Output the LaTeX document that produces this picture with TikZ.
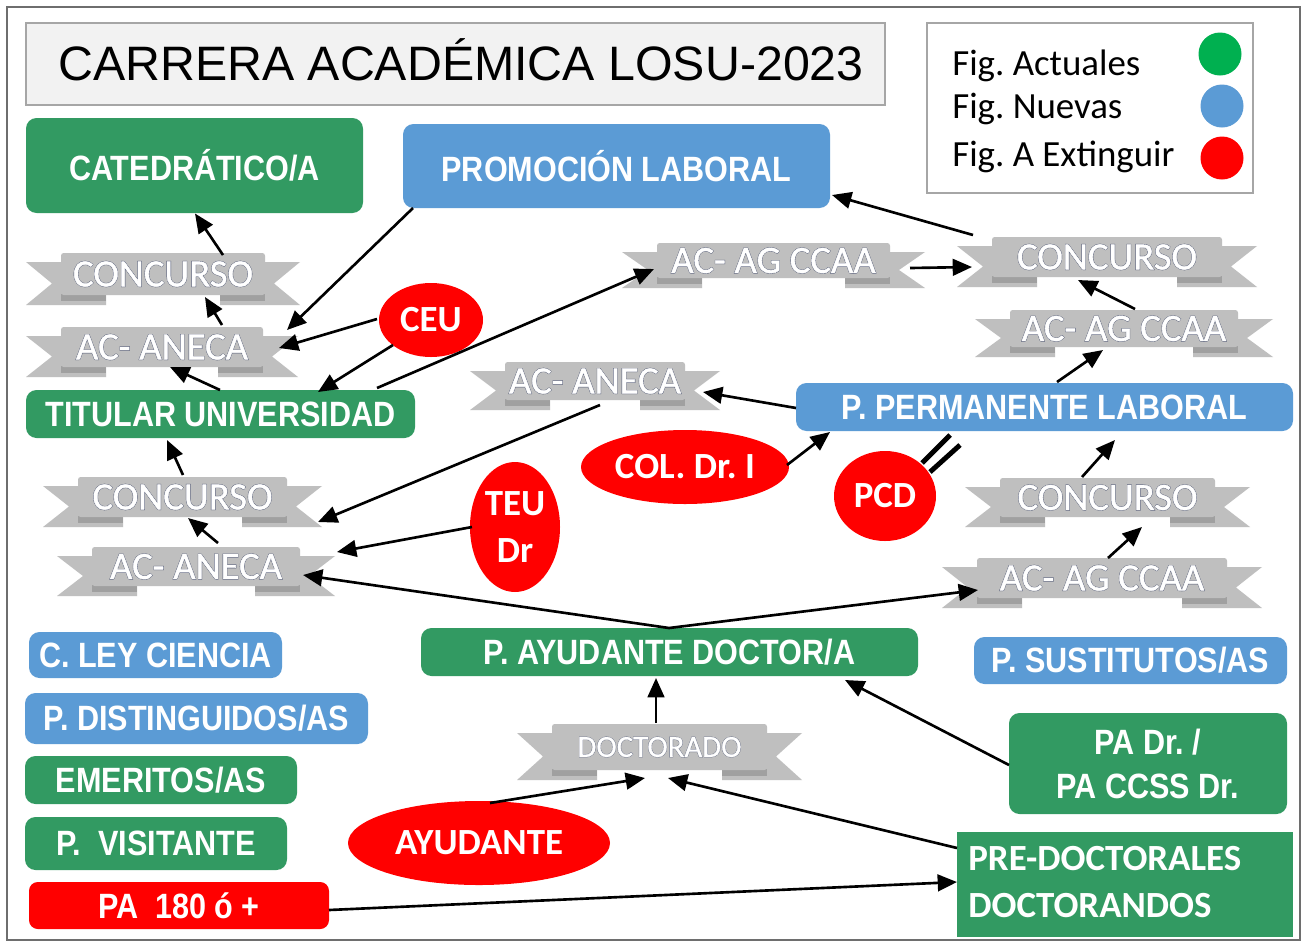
\documentclass[tikz,border=0pt]{standalone}
\usepackage{fontspec}
\setmainfont{Liberation Sans}
\newfontfamily\boxfont{Liberation Sans}[FakeStretch=0.87]
\newfontfamily\calfont{Carlito}
\newfontfamily\ribfontW{Carlito}[FakeBold=1.2]
\newfontfamily\ribfontO{Carlito}[FakeBold=3.2]
\usetikzlibrary{calc,arrows.meta,shapes.geometric}
\frenchspacing
\newlength\pxu
\setlength\pxu{0.02cm}
\definecolor{grn}{RGB}{50,154,98}
\definecolor{blu}{RGB}{91,155,213}
\definecolor{rd}{RGB}{255,0,0}
\definecolor{ribgray}{RGB}{191,191,191}
\definecolor{ribfold}{RGB}{160,160,160}
\definecolor{ribline}{RGB}{80,88,115}
\definecolor{lgreen}{RGB}{0,176,80}
\definecolor{framec}{RGB}{110,110,110}
\definecolor{titfill}{RGB}{242,242,242}
\definecolor{titdraw}{RGB}{166,166,166}
\tikzset{
 boxbase/.style={inner sep=0pt, text=white, font=\boxfont\bfseries\fontsize{20}{25}\selectfont, align=center},
 gbox/.style={boxbase, fill=grn, rounded corners=6pt},
 bbox/.style={boxbase, fill=blu, rounded corners=6pt},
 rbox/.style={boxbase, fill=rd, rounded corners=5pt},
 redell/.style={ellipse, fill=rd, inner sep=0pt, text=white, font=\calfont\bfseries\fontsize{21}{27}\selectfont, align=center},
 ribtxtO/.style={inner sep=0pt, text=ribline, font=\ribfontO\fontsize{#1}{#1}\selectfont},
 ribtxtW/.style={inner sep=0pt, text=white, font=\ribfontW\fontsize{#1}{#1}\selectfont},
 arr/.style={line width=1.5pt, -{Triangle[length=11pt,width=9.5pt]}},
 legtxt/.style={anchor=base west, inner sep=0pt, font=\calfont\fontsize{21}{21}\selectfont},
 dot/.style={circle, inner sep=0pt, minimum size={43*\pxu}},
}
\newcommand\mybox[7]{%
  \node[#1, minimum width={(#5-#3)*\pxu}, minimum height={(#6-#4)*\pxu}] (#2) at ({(#3+#5)/2},{(#4+#6)/2}) {#7};%
}
\newcommand\myribbon[7]{%
  \pgfmathsetmacro\rbL{#2+35}%
  \pgfmathsetmacro\rbR{#4-35}%
  \pgfmathsetmacro\rbM{(#3+9+#5)/2}%
  \pgfmathsetmacro\rbX{(#2+#4)/2}%
  \pgfmathsetmacro\rbY{(#3+#5-10)/2}%
  \fill[ribgray] (#2,#3+9) -- (\rbL+45,#3+9) -- (\rbL+45,#5) -- (#2,#5) -- (#2+26,\rbM) -- cycle;
  \fill[ribgray] (#4,#3+9) -- (\rbR-45,#3+9) -- (\rbR-45,#5) -- (#4,#5) -- (#4-26,\rbM) -- cycle;
  \fill[ribfold] (\rbL,#5-11) rectangle (\rbL+45,#5-4);
  \fill[ribfold] (\rbR-45,#5-11) rectangle (\rbR,#5-4);
  \fill[ribgray,rounded corners=1.5pt] (\rbL,#3) rectangle (\rbR,#5-10);
  \node[inner sep=0pt, minimum width={(#4-#2)*\pxu}, minimum height={(#5-#3)*\pxu}] (#1) at (\rbX,{(#3+#5)/2}) {};
  \node[ribtxtO=#7] at (\rbX,\rbY) {#6};
  \node[ribtxtW=#7] (#1t) at (\rbX,\rbY) {#6};
}
\begin{document}
\begin{tikzpicture}[x=0.02cm,y=-0.02cm]
\useasboundingbox (0,0) rectangle (1308,944);
\fill[white] (0,0) rectangle (1308,944);
\draw[framec, line width=1.2pt] (7,7) rectangle (1300,940);

% title
\node[fill=titfill, draw=titdraw, line width=1.2pt, inner sep=0pt, minimum width={(885-26)*\pxu}, minimum height={(105-23)*\pxu}] (title) at (455.5,64) {};
\node[anchor=base, inner sep=0pt, font=\fontsize{27.5}{30}\selectfont] (titletext) at (461,80) {CARRERA ACADÉMICA LOSU-2023};

% legend
\node[fill=white, draw=titdraw, line width=1.2pt, inner sep=0pt, minimum width={(1253-927)*\pxu}, minimum height={(193-23)*\pxu}] (legend) at (1090,108) {};
\node[legtxt] (l1) at (952,75) {Fig. Actuales};
\node[legtxt] (l2) at (952,118) {Fig. Nuevas};
\node[legtxt] (l3) at (952,166) {Fig. A Extinguir};
\node[dot, fill=lgreen] (c1) at (1220,54) {};
\node[dot, fill=blu] (c2) at (1222,106) {};
\node[dot, fill=rd] (c3) at (1222,158) {};

% ribbons
\myribbon{R1}{26}{253}{300}{305}{CONCURSO}{22}
\myribbon{R2}{26}{327}{298}{377}{AC- ANECA}{22}
\myribbon{R3}{43}{477}{322}{527}{CONCURSO}{22}
\myribbon{R4}{57}{547}{335}{596}{AC- ANECA}{22}
\myribbon{R5}{622}{243}{925}{288}{AC- AG CCAA}{22}
\myribbon{R6}{957}{237}{1257}{287}{CONCURSO}{22}
\myribbon{R7}{975}{310}{1273}{357}{AC- AG CCAA}{22}
\myribbon{R10}{470}{362}{720}{410}{AC- ANECA}{22}
\myribbon{R8}{965}{478}{1250}{527}{CONCURSO}{22}
\myribbon{R9}{942}{558}{1262}{608}{AC- AG CCAA}{22}
\myribbon{R11}{517}{724}{802}{780}{DOCTORADO}{17.5}

% boxes
\mybox{gbox}{G1}{26}{118}{363}{213}{CATEDRÁTICO/A}
\mybox{bbox}{B1}{403}{124}{830}{208}{PROMOCIÓN LABORAL}
\mybox{gbox}{G2}{26}{390}{415}{438}{TITULAR UNIVERSIDAD}
\mybox{bbox}{B2}{796}{383}{1293}{431}{P. PERMANENTE LABORAL}
\mybox{gbox}{G3}{421}{628}{918}{676}{P. AYUDANTE DOCTOR/A}
\mybox{bbox}{B3}{29}{632}{282}{678}{C. LEY CIENCIA}
\mybox{bbox}{B4}{25}{693}{368}{744}{P. DISTINGUIDOS/AS}
\mybox{gbox}{G4}{25}{756}{297}{804}{EMERITOS/AS}
\mybox{gbox}{G5}{25}{817}{287}{870}{P.~~VISITANTE}
\mybox{rbox}{P180}{29}{882}{329}{929}{PA~~180 ó +}
\mybox{bbox}{B5}{974}{637}{1287}{684}{P. SUSTITUTOS/AS}
\mybox{gbox}{G6}{1009}{713}{1287}{814}{PA Dr. /\\PA CCSS Dr.}
\node[fill=grn, inner sep=0pt, minimum width={(1293-957)*\pxu}, minimum height={(937-832)*\pxu}] (G7) at (1125,884.5) {};
\node[anchor=west, align=left, inner sep=0pt, text=white, font=\calfont\bfseries\fontsize{21}{26.6}\selectfont] (G7t) at (968,882) {PRE-DOCTORALES\\DOCTORANDOS};

% red ellipses
\node[redell, minimum width={104*\pxu}, minimum height={74*\pxu}] (CEU) at (431,320) {CEU};
\node[redell, minimum width={208*\pxu}, minimum height={74*\pxu}] (COL) at (685,467) {COL. Dr. I};
\node[redell, minimum width={102*\pxu}, minimum height={90*\pxu}] (PCD) at (885,496) {PCD};
\node[redell, minimum width={90*\pxu}, minimum height={130*\pxu}] (TEU) at (515,527) {TEU\\Dr};
\node[redell, minimum width={262*\pxu}, minimum height={84*\pxu}] (AYU) at (479,843) {AYUDANTE};

% PCD equivalence bars
\draw[line width=2.8pt] ($(PCD.center)+(37,-33)$) -- ($(PCD.center)+(65,-61)$);
\draw[line width=2.8pt] ($(PCD.center)+(45,-24)$) -- ($(PCD.center)+(75,-51)$);

% connectors
\draw[arr] ($(R1.center)+(60,-24)$) -- ($(G1.center)+(0.5,48)$);
\draw[arr] ($(R2.center)+(60,-27)$) -- ($(R1.center)+(42,18)$);
\draw[arr] ($(B1.center)+(-203.5,42)$) -- ($(R2.center)+(125,-22)$);
\draw[arr] ($(CEU.center)+(-54,-1)$) -- ($(R2.center)+(117,-4)$);
\draw[arr] ($(CEU.center)+(-38,25)$) -- ($(G2.center)+(97.5,-22)$);
\draw[arr] ($(G2.center)+(-0.5,-24)$) -- ($(R2.center)+(8,15)$);
\draw[arr] ($(G2.center)+(156.5,-26)$) -- ($(R5.center)+(-119.5,3.5)$);
\draw[arr] ($(R5.center)+(136.5,2.5)$) -- ($(R6.center)+(-135,5)$);
\draw[arr] ($(R6.center)+(-134,-27)$) -- ($(B1.center)+(215.5,29)$);
\draw[arr] ($(R7.center)+(11,-24.5)$) -- ($(R6.center)+(-29,18)$);
\draw[arr] ($(B2.center)+(12.5,-25)$) -- ($(R7.center)+(-21,16.5)$);
\draw[arr] ($(B2.center)+(-248.5,1)$) -- ($(R10.center)+(108,6)$);
\draw[arr] ($(R10.center)+(5,19)$) -- ($(R3.center)+(135.5,20)$);
\draw[arr] ($(TEU.center)+(-43,0)$) -- ($(R4.center)+(141,-19.5)$);
\draw[arr] ($(G3.center)+(-0.5,-24)$) -- ($(R4.center)+(107,3.5)$);
\draw[arr] ($(G3.center)+(-0.5,-24)$) -- ($(R9.center)+(-124,7)$);
\draw[arr] ($(R9.center)+(6,-25)$) -- ($(R8.center)+(34.5,24.5)$);
\draw[arr] ($(R8.center)+(-25.5,-25.5)$) -- ($(B2.center)+(70.5,33)$);
\draw[arr] ($(COL.center)+(102,-2)$) -- ($(B2.center)+(-214.5,25)$);
\draw[arr] ($(R4.center)+(22,-28.5)$) -- ($(R3.center)+(5.5,16)$);
\draw[arr] ($(R3.center)+(0.5,-27)$) -- ($(G2.center)+(-53.5,26)$);
\draw[arr] ($(R11.center)+(-3.5,-29)$) -- ($(G3.center)+(-13.5,26)$);
\draw[arr] ($(AYU.center)+(11,-40)$) -- ($(R11.center)+(-14.5,26)$);
\draw[arr] ($(G7.center)+(-168,-36.5)$) -- ($(R11.center)+(8.5,26)$);
\draw[arr] ($(G6.center)+(-139,1.5)$) -- ($(G3.center)+(175.5,28)$);
\draw[arr] ($(P180.center)+(150,4.5)$) -- ($(G7.center)+(-168,-2.5)$);
\end{tikzpicture}
\end{document}
